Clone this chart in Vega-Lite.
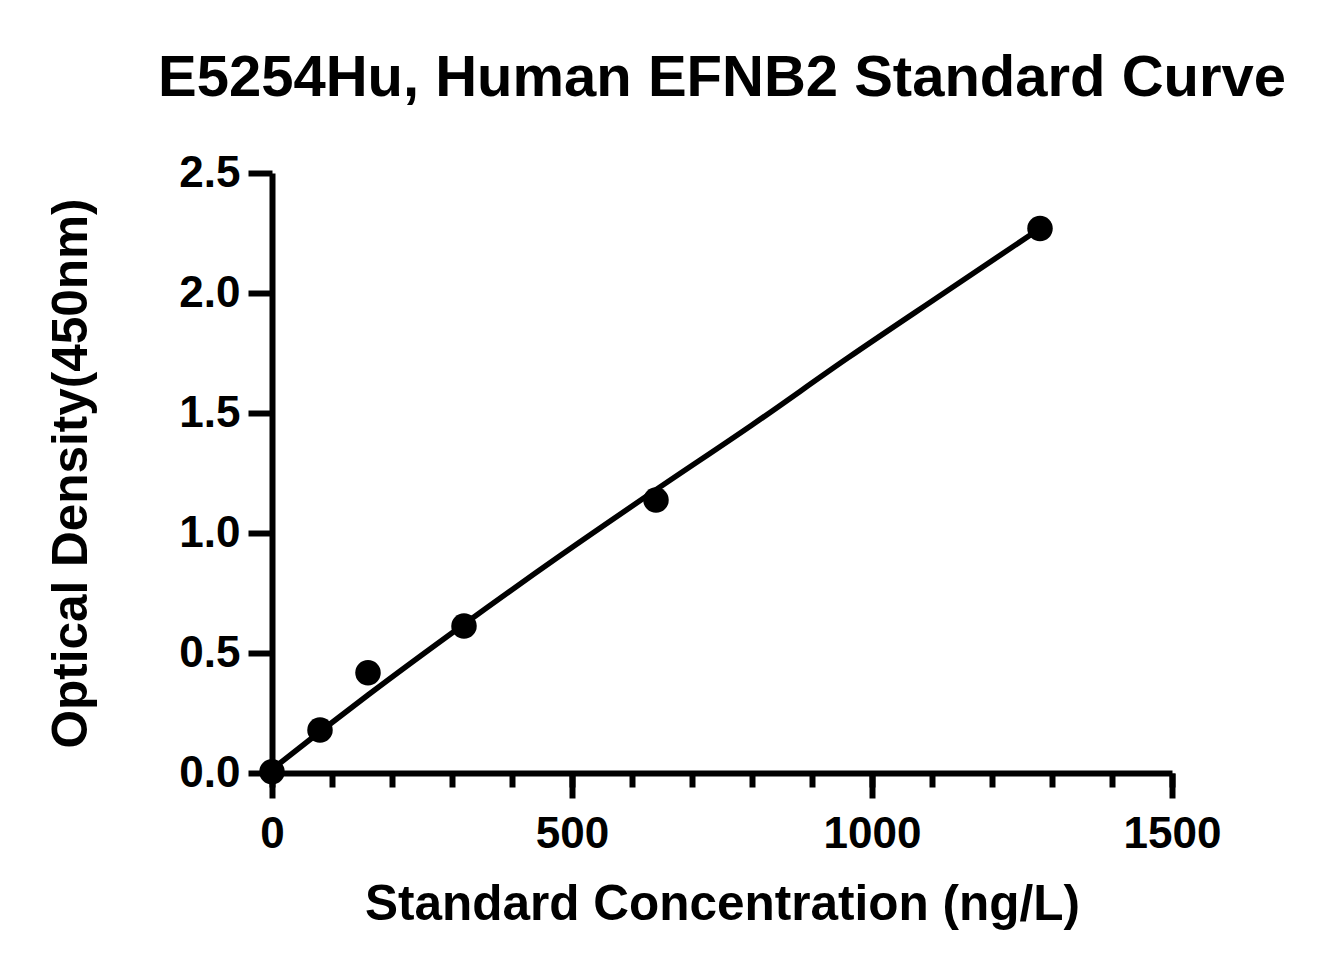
{
  "$schema": "https://vega.github.io/schema/vega-lite/v6.json",
  "width": 900,
  "height": 600,
  "autosize": {"type": "none"},
  "padding": {"left": 272, "top": 173, "right": 157, "bottom": 202},
  "background": "white",
  "config": {
    "view": {"stroke": null},
    "font": "Liberation Sans",
    "axis": {"grid": false}
  },
  "title": {
    "text": "E5254Hu, Human EFNB2 Standard Curve",
    "fontSize": 58,
    "fontWeight": "bold",
    "font": "Liberation Sans",
    "color": "black",
    "anchor": "middle",
    "baseline": "alphabetic",
    "offset": -3
  },
  "datasets": {
    "points": [
      {"conc": 0, "od": 0.005},
      {"conc": 80, "od": 0.179},
      {"conc": 160, "od": 0.418},
      {"conc": 320, "od": 0.6125},
      {"conc": 640, "od": 1.1375},
      {"conc": 1280, "od": 2.269}
    ],
    "curve": [
      {"conc": 0, "od": 0.015},
      {"conc": 80, "od": 0.172},
      {"conc": 160, "od": 0.325},
      {"conc": 320, "od": 0.62},
      {"conc": 480, "od": 0.905},
      {"conc": 640, "od": 1.18},
      {"conc": 800, "od": 1.45},
      {"conc": 960, "od": 1.73},
      {"conc": 1120, "od": 2.0},
      {"conc": 1280, "od": 2.269}
    ]
  },
  "layer": [
    {
      "data": {"name": "curve"},
      "mark": {"type": "line", "color": "black", "strokeWidth": 5.5, "interpolate": "monotone"},
      "encoding": {
        "x": {
          "field": "conc", "type": "quantitative",
          "scale": {"domain": [0, 1500], "nice": false},
          "axis": {
            "orient": "bottom",
            "values": [0, 100, 200, 300, 400, 500, 600, 700, 800, 900, 1000, 1100, 1200, 1300, 1400, 1500],
            "labels": false, "domain": false, "title": null,
            "tickSize": 14, "tickWidth": 6, "tickColor": "black"
          }
        },
        "y": {
          "field": "od", "type": "quantitative",
          "scale": {"domain": [0, 2.5], "nice": false},
          "axis": {
            "values": [0, 0.5, 1, 1.5, 2, 2.5],
            "format": ".1f",
            "domainWidth": 6, "domainColor": "black",
            "tickSize": 24, "tickWidth": 6, "tickColor": "black",
            "labelFont": "Liberation Sans", "labelFontSize": 44, "labelFontWeight": "bold", "labelColor": "black",
            "labelPadding": 8, "labelFlush": false,
            "title": "Optical Density(450nm)",
            "titleFont": "Liberation Sans", "titleFontSize": 49.5, "titleFontWeight": "bold", "titleColor": "black",
            "titleBaseline": "alphabetic",
            "titleX": -186
          }
        }
      }
    },
    {
      "data": {"name": "points"},
      "mark": {"type": "circle", "color": "black", "size": 650, "opacity": 1},
      "encoding": {
        "x": {
          "field": "conc", "type": "quantitative",
          "axis": {
            "orient": "bottom",
            "values": [0, 500, 1000, 1500],
            "format": "d",
            "domainWidth": 6, "domainColor": "black",
            "tickSize": 25, "tickWidth": 6, "tickColor": "black",
            "labelFont": "Liberation Sans", "labelFontSize": 44, "labelFontWeight": "bold", "labelColor": "black",
            "labelBaseline": "alphabetic", "labelFlush": false,
            "labelPadding": 49,
            "title": "Standard Concentration (ng/L)",
            "titleFont": "Liberation Sans", "titleFontSize": 49.5, "titleFontWeight": "bold", "titleColor": "black",
            "titleBaseline": "alphabetic",
            "titleY": 146
          }
        },
        "y": {"field": "od", "type": "quantitative"}
      }
    }
  ],
  "resolve": {"axis": {"x": "independent"}}
}
